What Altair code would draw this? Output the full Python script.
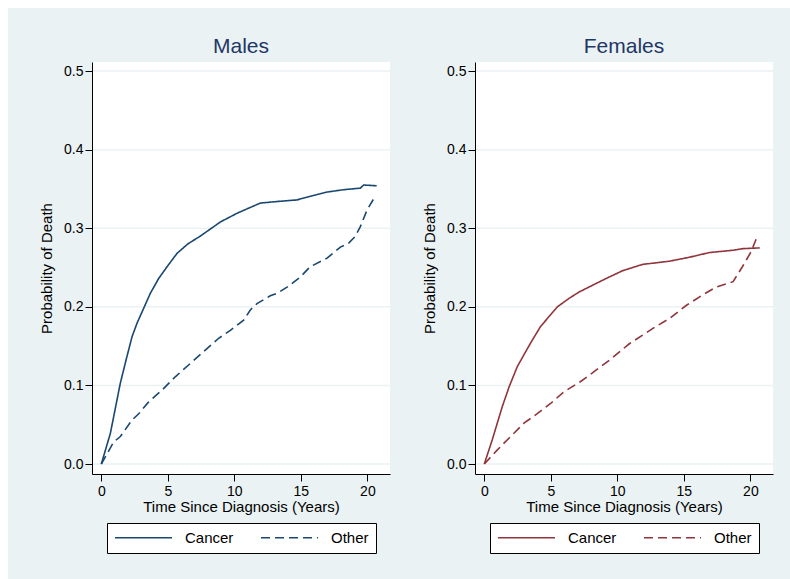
import altair as alt
import pandas as pd

# Cumulative incidence of death by cause, years since diagnosis
causes = ["Cancer", "Other"]

male_cancer_t = [0, 0.68, 1.43, 1.93, 2.31, 2.68, 3.18, 3.68, 4.31, 4.94, 5.69, 6.5, 7.44,
                 8.2, 8.95, 10.2, 11.0, 11.95, 13.2, 14.7, 16.0, 16.97, 18.2, 19.47, 19.72, 20.7]
male_cancer_p = [0, 0.039, 0.103, 0.137, 0.162, 0.179, 0.198, 0.217, 0.236, 0.251, 0.268, 0.280,
                 0.290, 0.299, 0.308, 0.319, 0.325, 0.332, 0.334, 0.336, 0.342, 0.346, 0.349,
                 0.351, 0.355, 0.354]

male_other_t = [0, 0.93, 1.43, 2.31, 2.81, 3.56, 4.56, 5.56, 6.56, 7.69, 8.82, 9.7, 10.7, 11.2,
                11.7, 12.7, 13.2, 13.96, 14.96, 15.7, 16.97, 17.97, 18.6, 19.1, 19.47, 19.97, 20.6]
male_other_p = [0, 0.028, 0.035, 0.056, 0.064, 0.079, 0.094, 0.111, 0.126, 0.143, 0.160, 0.170,
                0.183, 0.196, 0.204, 0.214, 0.217, 0.225, 0.238, 0.251, 0.262, 0.276, 0.281,
                0.290, 0.302, 0.323, 0.341]

female_cancer_t = [0, 0.6, 1.35, 1.86, 2.48, 3.48, 4.23, 5.49, 6.39, 7.14, 8.2, 9.15, 10.4,
                   11.9, 13.9, 15.4, 16.9, 18.7, 19.4, 20.7]
female_cancer_p = [0, 0.031, 0.073, 0.098, 0.124, 0.154, 0.175, 0.200, 0.211, 0.219, 0.228,
                   0.236, 0.246, 0.254, 0.258, 0.263, 0.269, 0.272, 0.274, 0.275]

female_other_t = [0, 0.98, 1.98, 2.98, 3.98, 4.98, 5.99, 7.24, 7.89, 9.4, 10.9, 11.9, 12.9,
                  13.9, 15.2, 16.4, 17.4, 18.7, 19.4, 20.05, 20.55]
female_other_p = [0, 0.018, 0.035, 0.052, 0.064, 0.077, 0.092, 0.105, 0.113, 0.132, 0.153,
                  0.164, 0.175, 0.185, 0.202, 0.215, 0.225, 0.232, 0.251, 0.270, 0.291]

x_ticks = [0, 5, 10, 15, 20]
y_ticks = [0.0, 0.1, 0.2, 0.3, 0.4, 0.5]

W, H = 298, 412
NAVY = "#1A476F"
MAROON = "#90353B"
BG = "#EAF2F3"
TITLE_COLOR = "#1E3765"
FONT = "Liberation Sans"


def curves(ct, cp, ot, op):
    return pd.DataFrame({
        "time": ct + ot,
        "prob": cp + op,
        "cause": ["Cancer"] * len(ct) + ["Other"] * len(ot),
    })


def panel(title, df, color, bg_left, bg_right):
    x_scale = alt.Scale(domain=[-0.7, 21.7], nice=False, zero=False)
    y_scale = alt.Scale(domain=[-0.0127, 0.5115], nice=False, zero=False)
    y_axis = alt.Axis(values=y_ticks, format=".1f", title="Probability of Death",
                      labelPadding=2, titlePadding=9, zindex=1)
    one = pd.DataFrame({"k": [0]})

    # light panel backdrop and the white plot region on top of it
    backdrop = alt.Chart(one).mark_rect(color=BG).encode(
        x=alt.value(bg_left), x2=alt.value(W + bg_right),
        y=alt.value(-54), y2=alt.value(517),
    )
    plot_fill = alt.Chart(one).mark_rect(color="white").encode(
        x=alt.value(0), x2=alt.value(W), y=alt.value(0), y2=alt.value(H),
    )
    heading = alt.Chart(one).mark_text(
        text=title, font=FONT, fontSize=21, color=TITLE_COLOR,
        align="center", baseline="alphabetic",
    ).encode(x=alt.value(W / 2), y=alt.value(-9))

    grid = alt.Chart(pd.DataFrame({"prob": y_ticks})).mark_rule(
        color=BG, strokeWidth=1.5
    ).encode(y=alt.Y("prob:Q", scale=y_scale, axis=y_axis))

    legend = alt.Legend(
        orient="none", legendX=15, legendY=461, direction="horizontal",
        strokeColor="black", fillColor="white", padding=7,
        symbolType="stroke", symbolSize=3249, symbolStrokeWidth=1.4,
        clipHeight=15, labelFont=FONT, labelFontSize=15, labelColor="black",
        labelOffset=12, columnPadding=26,
    )

    lines = alt.Chart(df).mark_line(strokeWidth=1.6).encode(
        x=alt.X("time:Q", scale=x_scale,
                axis=alt.Axis(values=x_ticks, title="Time Since Diagnosis (Years)",
                              labelPadding=3, titlePadding=1, zindex=1)),
        y=alt.Y("prob:Q", scale=y_scale, axis=y_axis),
        color=alt.Color("cause:N", scale=alt.Scale(domain=causes, range=[color, color]),
                        title=None, legend=legend),
        strokeDash=alt.StrokeDash("cause:N",
                                  scale=alt.Scale(domain=causes, range=[[1, 0], [9, 5]]),
                                  title=None, legend=legend),
    )

    return alt.layer(backdrop, plot_fill, heading, grid, lines).properties(width=W, height=H)


# male backdrop spans x 8..415, female backdrop 415..790 (page pixels)
males = panel("Males", curves(male_cancer_t, male_cancer_p, male_other_t, male_other_p),
              NAVY, -84, 25)
females = panel("Females", curves(female_cancer_t, female_cancer_p, female_other_t, female_other_p),
                MAROON, -60, 17)

chart = alt.hconcat(males, females, spacing=0).resolve_scale(
    color="independent", strokeDash="independent", x="independent", y="independent"
).properties(
    background="white",
    padding={"left": 8, "top": 8, "right": 0, "bottom": 0},
).configure(font=FONT).configure_view(strokeWidth=0, fill="white").configure_axis(
    domainColor="black", domainWidth=1, tickColor="black", tickSize=7, tickWidth=1,
    labelFont=FONT, labelFontSize=14, labelColor="black",
    titleFont=FONT, titleFontSize=15, titleFontWeight="normal", titleColor="black",
    grid=False,
)

chart.save("out.html", embed_options={"renderer": "svg", "actions": False})
